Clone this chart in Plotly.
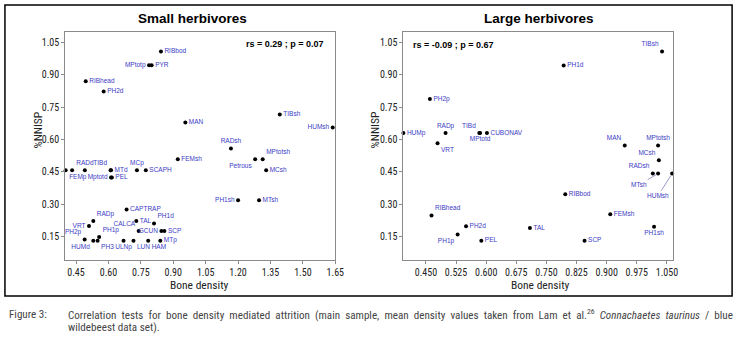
import plotly.graph_objects as go

# ---------------- data ----------------
small_labels = ["RIBbod", "MPtotp", "PYR", "RIBhead", "PH2d", "MAN", "TIBsh", "HUMsh",
                "RADsh", "FEMsh", "Petrous", "MPtotsh", "MCsh", "FEMp", " ", "RADd",
                "TIBd", "MTd", "MCp", "SCAPH", "Mptotd", "PEL", "PH1sh", "MTsh",
                "CAPTRAP", "RADp", "TAL", "PH1d", "VRT", "CALCA", "GCUN", "SCP",
                "PH1p", "PH2p", "HUMd", "PH3", "ULNp", "LUN", "HAM", "MTp"]
small_density = [0.843, 0.788, 0.800, 0.495, 0.578, 0.956, 1.393, 1.638,
                 1.167, 0.921, 1.279, 1.314, 1.330, 0.402, 0.432, 0.491,
                 0.610, 0.612, 0.732, 0.773, 0.612, 0.616, 1.200, 1.297,
                 0.684, 0.530, 0.729, 0.811, 0.510, 0.740, 0.845, 0.859,
                 0.557, 0.490, 0.530, 0.550, 0.670, 0.716, 0.784, 0.840]
small_nnisp = [1.009, 0.945, 0.945, 0.870, 0.823, 0.679, 0.716, 0.656,
               0.558, 0.509, 0.509, 0.509, 0.458, 0.458, 0.458, 0.458,
               0.458, 0.458, 0.458, 0.458, 0.424, 0.424, 0.318, 0.318,
               0.275, 0.222, 0.222, 0.210, 0.199, 0.175, 0.175, 0.175,
               0.148, 0.136, 0.130, 0.130, 0.130, 0.130, 0.130, 0.130]

large_labels = ["HUMp", "PH2p", "RADp", "VRT", "TIBd", "MPtotd", "CUBONAV", "TIBsh",
                "PH1d", "MAN", "MPtotsh", "MCsh", "RADsh", "RIBbod", "FEMsh",
                "PH1sh", "SCP", "TAL", "RIBhead", "PH2d", "PH1p", "PEL"]
large_density = [0.394, 0.460, 0.499, 0.479, 0.583, 0.585, 0.602, 1.038,
                 0.793, 0.945, 1.028, 1.030, 1.015, 0.797, 0.909,
                 1.018, 0.845, 0.709, 0.464, 0.550, 0.529, 0.588]
large_nnisp = [0.630, 0.788, 0.630, 0.583, 0.630, 0.630, 0.630, 1.008,
               0.943, 0.572, 0.572, 0.504, 0.442, 0.346, 0.253,
               0.195, 0.130, 0.190, 0.247, 0.198, 0.159, 0.130]
# labelled with leader lines
large_lead_labels = ["MTsh", "HUMsh"]
large_lead_density = [1.028, 1.063]
large_lead_nnisp = [0.442, 0.442]

small_stat = "rs = 0.29 ; p = 0.07"
large_stat = "rs = -0.09 ; p = 0.67"
small_xticks = [0.45, 0.60, 0.75, 0.90, 1.05, 1.20, 1.35, 1.50, 1.65]
large_xticks = [0.450, 0.525, 0.600, 0.675, 0.750, 0.825, 0.900, 0.975, 1.050]
yticks = [0.15, 0.30, 0.45, 0.60, 0.75, 0.90, 1.05]

caption_head = "Figure 3:"
caption_line1 = ("Correlation tests for bone density mediated attrition (main sample, mean density "
                 "values taken from Lam et al.<sup>26</sup> <i>Connachaetes taurinus</i> / blue")
caption_line2 = "wildebeest data set)."

# ---------------- styling ----------------
small_pos = ["middle right", "middle left", "middle right", "middle right", "middle right",
             "middle right", "middle right", "middle left", "top center", "middle right",
             "bottom left", "top right", "middle right", "bottom right", "middle right",
             "top center", "top left", "middle right", "top center", "middle right",
             "middle left", "middle right", "middle left", "middle right", "middle right",
             "top right", "middle right", "top right", "middle left", "top left",
             "middle left", "middle right", "top right", "top left", "bottom left",
             "bottom right", "bottom center", "bottom right", "bottom right", "middle right"]
large_pos = ["middle right", "middle right", "top center", "bottom right", "top left",
             "bottom center", "middle right", "top left", "middle right", "top left",
             "top center", "top left", "top left", "middle right", "middle right",
             "bottom center", "middle right", "middle right", "top right", "middle right",
             "bottom left", "middle right"]
lead_offsets = [(-19, 11), (-14, 22)]

W, H = 749, 338
NARROW = "Roboto Condensed, Liberation Sans Narrow, DejaVu Sans Condensed, sans-serif"
SANS = "Liberation Sans, Arial, sans-serif"
BLUE = "#3b3bc4"
FRAME = "#8a8a8a"
TXT = "#222222"
CAP = "#444444"
LABEL_SIZE = 6.5

def px_x(p):
    return p / W

def px_y(p):
    return 1 - p / H

fig = go.Figure()
fig.add_trace(go.Scatter(
    x=small_density, y=small_nnisp, mode="markers+text", text=small_labels,
    textposition=small_pos, textfont=dict(family=SANS, size=LABEL_SIZE, color=BLUE),
    marker=dict(color="black", size=4), cliponaxis=False, xaxis="x", yaxis="y",
    hoverinfo="skip", showlegend=False))
fig.add_trace(go.Scatter(
    x=large_density, y=large_nnisp, mode="markers+text", text=large_labels,
    textposition=large_pos, textfont=dict(family=SANS, size=LABEL_SIZE, color=BLUE),
    marker=dict(color="black", size=4), cliponaxis=False, xaxis="x2", yaxis="y2",
    hoverinfo="skip", showlegend=False))
fig.add_trace(go.Scatter(
    x=large_lead_density, y=large_lead_nnisp, mode="markers",
    marker=dict(color="black", size=4), cliponaxis=False, xaxis="x2", yaxis="y2",
    hoverinfo="skip", showlegend=False))

annotations = []
for lab, xv, yv, (ax, ay) in zip(large_lead_labels, large_lead_density, large_lead_nnisp, lead_offsets):
    annotations.append(dict(x=xv, y=yv, xref="x2", yref="y2", text=lab, showarrow=True,
                            ax=ax, ay=ay, arrowhead=0, arrowwidth=0.7, arrowcolor="#7070b0",
                            standoff=2, font=dict(family=SANS, size=LABEL_SIZE, color=BLUE)))

axis_common = dict(showline=True, mirror=True, linecolor=FRAME, linewidth=1,
                   ticks="outside", ticklen=3, tickcolor=FRAME, showgrid=False,
                   zeroline=False, tickangle=0,
                   tickfont=dict(family=NARROW, size=10, color=TXT))

ydom = [px_y(260), px_y(32)]
fig.update_layout(
    width=W, height=H, margin=dict(l=0, r=0, t=0, b=0),
    paper_bgcolor="white", plot_bgcolor="white",
    xaxis=dict(domain=[px_x(66), px_x(339.5)], range=[0.400, 1.6505],
               tickvals=small_xticks, tickformat=".2f", anchor="y", **axis_common),
    yaxis=dict(domain=ydom, range=[0.041, 1.099], tickvals=yticks, tickformat=".2f",
               anchor="x", **axis_common),
    xaxis2=dict(domain=[px_x(408.3), px_x(680.7)], range=[0.394, 1.064],
                tickvals=large_xticks, tickformat=".3f", anchor="y2", **axis_common),
    yaxis2=dict(domain=ydom, range=[0.041, 1.099], tickvals=yticks, tickformat=".2f",
                anchor="x2", **axis_common),
)

# justify caption line 1 by widening the word gaps
cap1 = caption_line1.replace(" ", "  ")


def note(xp, yp, text, font, xanchor="center", **kw):
    return dict(x=px_x(xp), y=px_y(yp), xref="paper", yref="paper", text=text,
                showarrow=False, xanchor=xanchor, yanchor="middle", font=font, **kw)


title_font = dict(family=SANS, size=13.5, color="black")
stat_font = dict(family=SANS, size=9, color="black")
axis_title_font = dict(family=NARROW, size=11.5, color=TXT)
cap_font = dict(family=NARROW, size=11.1, color=CAP)

annotations += [
    note(195, 19, "<b>Small herbivores</b>", title_font),
    note(546, 19, "<b>Large herbivores</b>", title_font),
    note(330, 44, "<b>" + small_stat + "</b>", stat_font, xanchor="right"),
    note(416, 45, "<b>" + large_stat + "</b>", stat_font, xanchor="left"),
    note(202, 285, "Bone density", axis_title_font),
    note(547, 285, "Bone density", axis_title_font),
    note(38, 130, "%NNISP", axis_title_font, textangle=-90),
    note(380, 130, "%NNISP", axis_title_font, textangle=-90),
    note(7, 314, caption_head, cap_font, xanchor="left"),
    note(67, 314, cap1, cap_font, xanchor="left"),
    note(67, 327, caption_line2, cap_font, xanchor="left"),
]
fig.update_layout(annotations=annotations)

fig.add_shape(type="rect", xref="paper", yref="paper",
              x0=px_x(5), x1=px_x(741), y0=px_y(296), y1=px_y(5),
              line=dict(color="black", width=1.5))

fig.write_html("out.html", config={"displayModeBar": False},
               post_script="document.body.style.margin='0';document.body.style.overflow='hidden';")
